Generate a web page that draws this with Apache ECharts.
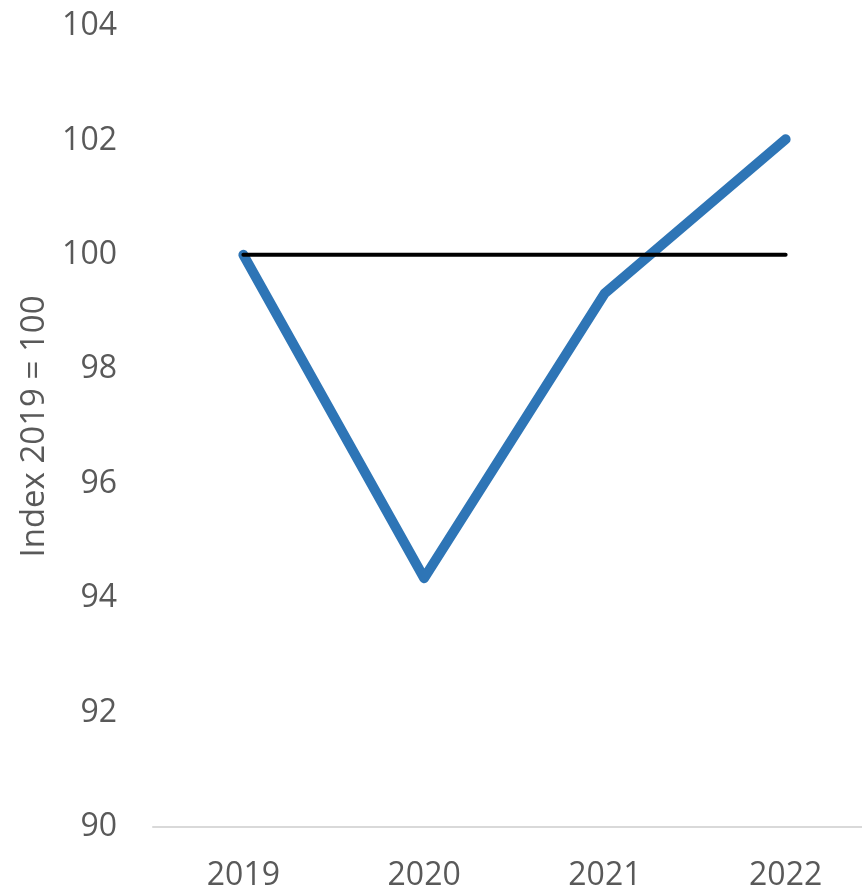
<!DOCTYPE html>
<html>
<head>
<meta charset="utf-8">
<script src="https://cdn.jsdelivr.net/npm/echarts@6/dist/echarts.min.js"></script>
<style>
  html, body { margin: 0; padding: 0; background: #fff; }
  #chart { width: 862px; height: 889px; }
</style>
</head>
<body>
<div id="chart"></div>
<script>
var years = ['2019', '2020', '2021', '2022'];
var indexValues = [100, 94.35, 99.33, 102.02];
var baseValues = [100, 100, 100, 100];
var yMin = 90, yMax = 104, yStep = 2;

var chart = echarts.init(document.getElementById('chart'));
var font = '"Open Sans", "Liberation Sans", sans-serif';
var option = {
    animation: false,
    backgroundColor: '#ffffff',
    grid: {
        left: 153,
        width: 723,
        top: 26,
        bottom: 62,
        outerBoundsMode: 'none', // let the plot run past the right edge like the original
        containLabel: false
    },
    xAxis: {
        type: 'category',
        data: years,
        boundaryGap: true,
        axisLine: { lineStyle: { color: '#d9d9d9', width: 2 } },
        axisTick: { show: false },
        axisLabel: {
            color: '#595959',
            fontFamily: font,
            fontSize: 32,
            margin: 33
        }
    },
    yAxis: {
        type: 'value',
        min: yMin,
        max: yMax,
        interval: yStep,
        name: 'Index 2019 = 100',
        nameLocation: 'middle',
        nameGap: 102,
        nameTextStyle: {
            color: '#595959',
            fontFamily: font,
            fontSize: 33
        },
        axisLine: { show: false },
        axisTick: { show: false },
        splitLine: { show: false },
        axisLabel: {
            color: '#595959',
            fontFamily: font,
            fontSize: 32,
            margin: 36
        }
    },
    series: [
        {
            name: 'Index',
            type: 'line',
            data: indexValues,
            symbol: 'none',
            z: 2,
            lineStyle: { color: '#2e75b6', width: 10, cap: 'round', join: 'round' }
        },
        {
            name: 'Base',
            type: 'line',
            data: baseValues,
            symbol: 'none',
            z: 3,
            lineStyle: { color: '#000000', width: 4, cap: 'round' }
        }
    ]
};
chart.setOption(option);
</script>
</body>
</html>
